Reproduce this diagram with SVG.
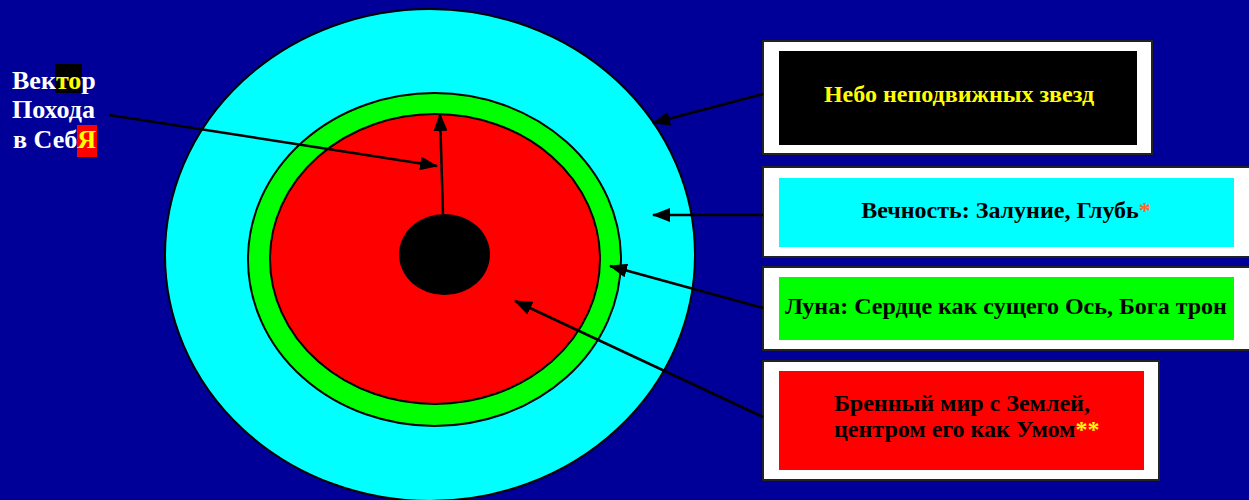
<svg xmlns="http://www.w3.org/2000/svg" width="1249" height="500" viewBox="0 0 1249 500">
<defs>
<style>
.ring{stroke:#000;stroke-width:2}
.outer{fill:#fff;stroke:#222;stroke-width:2}
.lbl{font-family:"Liberation Serif","Times New Roman",serif;font-weight:bold;font-size:24px}
.side{font-family:"Liberation Serif","Times New Roman",serif;font-weight:bold;font-size:26px;fill:#fff}
.conn{stroke:#000;stroke-width:2.5;fill:none;marker-end:url(#ah)}
</style>
<marker id="ah" markerUnits="userSpaceOnUse" markerWidth="18" markerHeight="14" refX="17" refY="7" orient="auto">
<path d="M0,0 L18,7 L0,14 z" fill="#000"/>
</marker>
</defs>
<rect width="1249" height="500" fill="#000099"/>

<g id="rings">
<ellipse id="eternity" class="ring" cx="430" cy="255" rx="265" ry="246" fill="#00ffff"/>
<ellipse id="moon" class="ring" cx="434.5" cy="259.5" rx="186.5" ry="166.5" fill="#00ff00"/>
<ellipse id="world" class="ring" cx="435" cy="259" rx="165" ry="145" fill="#ff0000"/>
<ellipse id="earth" cx="444.5" cy="254.5" rx="45.5" ry="40.5" fill="#000"/>
</g>

<g id="vector-label">
<rect x="55" y="64" width="27" height="29" fill="#000"/>
<rect x="77" y="125" width="20" height="32" fill="#ff0000"/>
<text class="side" x="12" y="89">Век<tspan fill="#ffff00">то</tspan>р</text>
<text class="side" x="12" y="118">Похода</text>
<text class="side" x="13" y="148">в Себ<tspan fill="#ffff00">Я</tspan></text>
</g>

<g id="box-sky">
<rect class="outer" x="763" y="41" width="389" height="113"/>
<rect x="779" y="51" width="358" height="94" fill="#000"/>
<text class="lbl" x="959" y="102" text-anchor="middle" fill="#ffff00">Небо неподвижных звезд</text>
</g>

<g id="box-eternity">
<rect class="outer" x="763" y="167" width="500" height="90"/>
<rect x="779" y="178" width="455" height="69" fill="#00ffff"/>
<text class="lbl" x="1006" y="218" text-anchor="middle" fill="#000">Вечность: Залуние, Глубь<tspan fill="#ff6633">*</tspan></text>
</g>

<g id="box-moon">
<rect class="outer" x="763" y="267" width="500" height="83"/>
<rect x="779" y="277" width="455" height="63" fill="#00ff00"/>
<text class="lbl" x="1006" y="314" text-anchor="middle" fill="#000">Луна: Сердце как сущего Ось, Бога трон</text>
</g>

<g id="box-world">
<rect class="outer" x="763" y="361" width="396" height="119"/>
<rect x="779" y="371" width="365" height="99" fill="#ff0000"/>
<text class="lbl" x="834" y="411" fill="#000">Бренный мир с Землей,</text>
<text class="lbl" x="834" y="437" fill="#000">центром его как Умом<tspan fill="#ffff00">**</tspan></text>
</g>

<g id="connectors">
<line class="conn" x1="763" y1="94" x2="653" y2="123"/>
<line class="conn" x1="763" y1="215" x2="653" y2="215"/>
<line class="conn" x1="763" y1="308" x2="610" y2="266"/>
<line class="conn" x1="763" y1="417" x2="515" y2="301"/>
<line class="conn" x1="109" y1="115" x2="437" y2="166"/>
<line class="conn" x1="443" y1="214" x2="440" y2="114"/>
</g>
</svg>
